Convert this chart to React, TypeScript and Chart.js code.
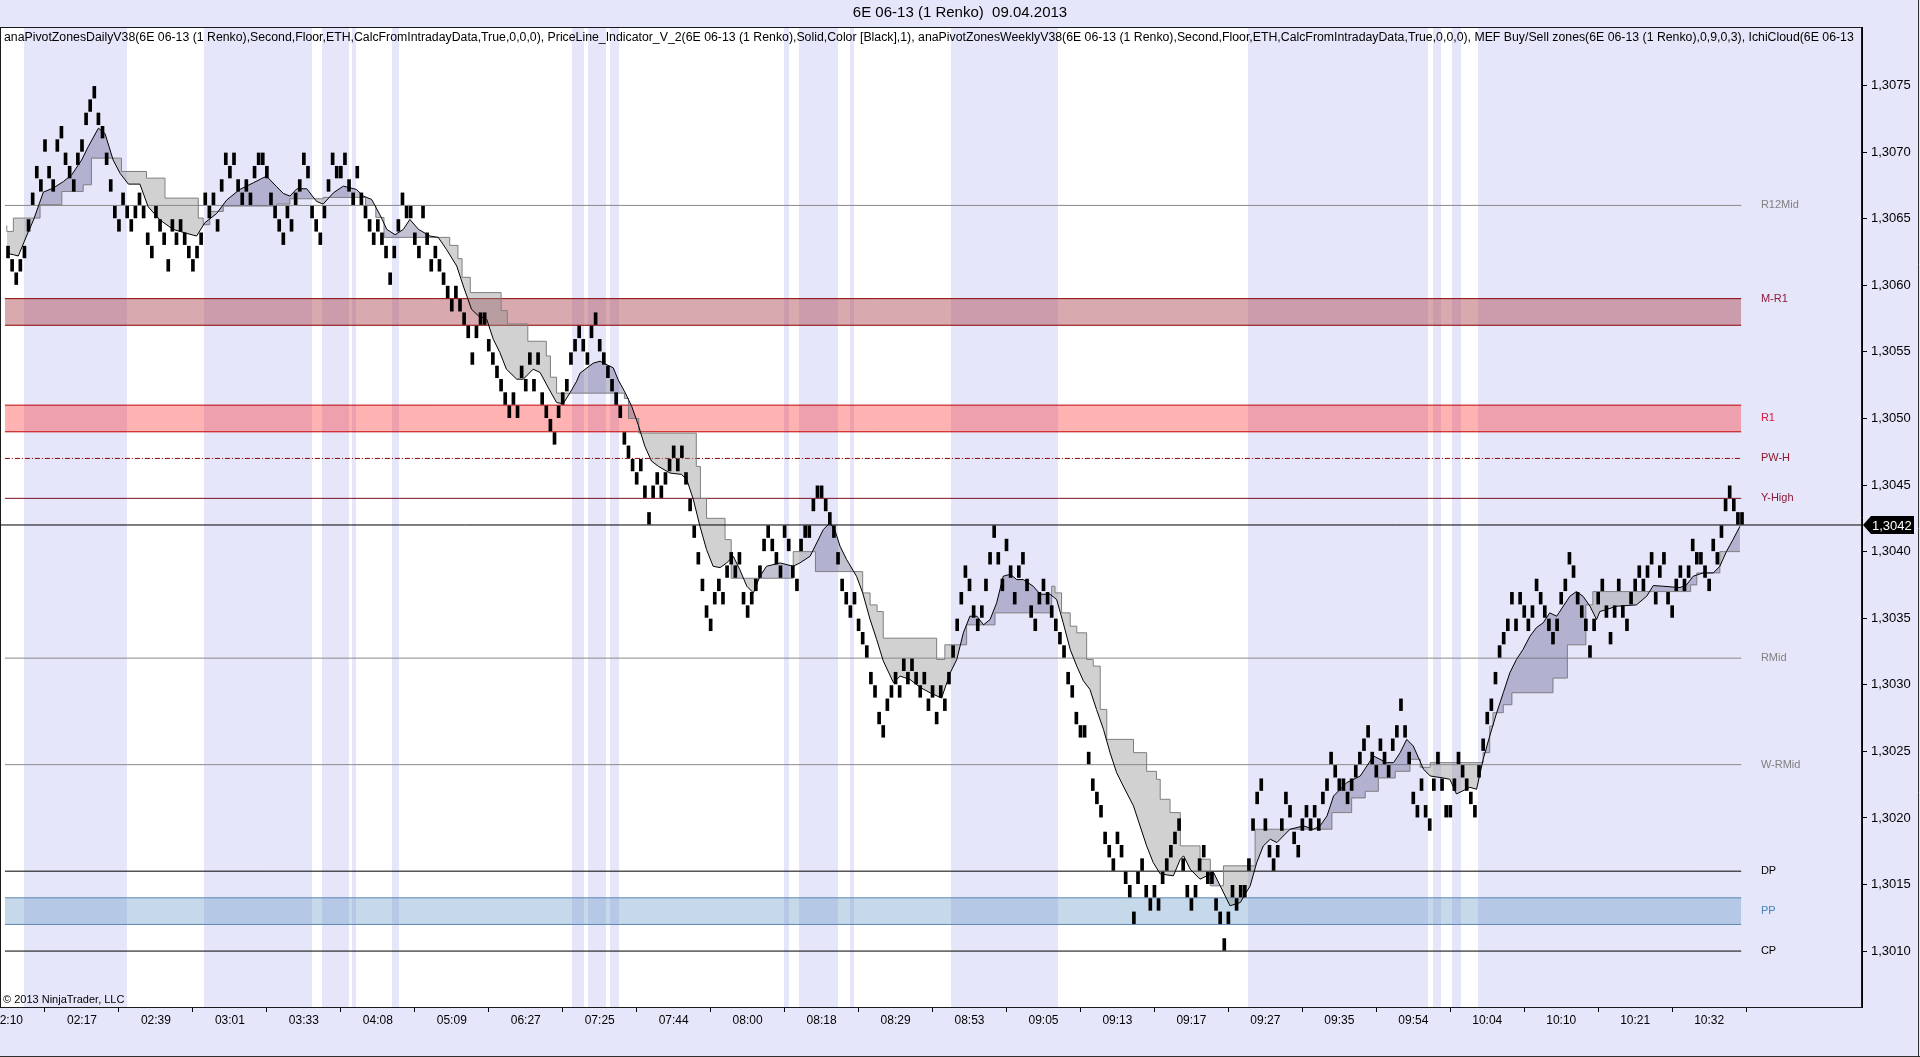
import React, { useEffect, useRef } from 'react';
import { Chart, registerables } from 'chart.js';

Chart.register(...registerables);

// ---------- data ----------
const BASE_PRICE = 1.3;
const TICK = 0.0001;

// Renko brick tops (pips above 1.3000), one brick per bar
const BRICK_TOPS = [
  63, 62, 61, 62, 63, 65, 67, 69, 68, 71, 69, 68, 71, 72, 70, 69, 68, 70, 71, 73,
  74, 75, 73, 72, 70, 68, 66, 65, 67, 66, 65, 66, 67, 66, 64, 63, 66, 65, 64, 62,
  65, 64, 65, 64, 63, 62, 63, 64, 67, 66, 67, 65, 68, 70, 69, 70, 68, 67, 68, 67,
  69, 70, 70, 69, 67, 66, 65, 64, 66, 65, 67, 68, 70, 69,
  66, 65, 64, 66, 68, 70, 69, 69, 70, 68, 67, 69, 67, 66, 65, 64, 65, 64, 63, 61,
  63, 65, 67, 66, 66, 64, 63, 66, 64, 62, 63, 62, 61, 60, 59, 60, 59, 58, 57, 55,
  57, 58, 58, 56, 55, 54, 53, 52, 51, 52, 51, 54, 53, 55, 53, 55, 52, 51, 50, 49,
  51, 52, 53, 55, 56, 57, 56, 55, 57, 58, 56,
  55, 54, 53, 52, 51, 49, 48, 47, 46, 47, 45, 43, 45, 46, 45, 46, 47, 48, 47, 48,
  46, 44, 42, 40, 38, 36, 35, 37, 38, 37, 39, 40, 39, 40, 37, 36, 37, 38, 39, 41,
  42, 41, 40, 39, 42, 41, 39, 38, 41, 42, 42, 44, 45, 45, 44, 43, 42, 40, 38, 37,
  36, 37, 35, 34,
  33, 31, 30, 28, 27, 29, 30, 31, 30, 32, 31, 32, 31, 30, 31, 29, 30, 28, 30, 29,
  31, 33, 35, 37, 39, 38, 36, 35, 36, 38, 40, 42, 40, 38, 41, 39, 37, 39, 40, 38,
  36, 35, 37, 38, 37, 36, 35, 34, 33, 31, 30, 28, 27, 27, 25, 23, 22, 21, 19, 18,
  17, 19, 18, 16, 15, 13, 16, 17, 15, 14, 15, 14, 16, 17, 18, 19, 20,
  17, 15, 14, 15, 17, 18, 16, 16, 14, 13, 11, 13, 15, 14, 15, 15, 17, 20, 22, 23,
  20, 18, 17, 18, 20, 22, 21, 19, 18, 20, 21, 20, 21, 20, 22, 23, 25, 24, 23, 23,
  22, 23, 24, 25, 26, 27, 25, 24, 26, 25, 24, 26, 27, 29, 27, 25, 22, 21, 23, 21,
  20, 23, 25, 23, 21, 21,
  23, 25, 24, 23, 22, 21, 24, 26, 28, 29, 31, 33, 34, 35, 37, 35, 37, 36, 35, 36,
  38, 37, 36, 35, 34, 35, 37, 38, 40, 39, 37, 36, 35, 33, 35, 37, 38, 36, 34, 36,
  38, 36, 35, 37, 38, 39, 38, 39, 40, 37, 39, 40, 37, 36, 38, 39, 38, 39, 41, 40,
  40, 39, 38, 41, 40, 42, 44, 45, 44, 43, 43,
];

// Ichimoku-style cloud: fast line (black) and slow stepped line (grey), [bar, pips]
const CLOUD_FAST = [
  [-0.3, 62.4], [1.3, 62.3], [2.5, 62.2], [4.5, 63.7], [6.2, 64.9], [8.6, 67.0], [11.0, 67.3], [13.5, 67.8],
  [15.5, 68.3], [17.9, 69.4], [19.5, 70.4], [22.0, 71.8], [23.6, 71.4], [25.6, 69.4], [27.3, 68.4], [29.3, 67.6],
  [32.1, 67.6], [34.1, 65.9], [37.0, 64.9], [40.2, 64.2], [43.5, 63.9], [45.9, 63.7], [47.9, 64.7], [50.8, 65.4],
  [53.2, 66.4], [56.4, 67.2], [59.7, 67.7], [62.9, 68.2], [65.4, 67.4], [67.0, 66.9],
  [68.6, 66.7], [70.3, 67.25], [72.7, 67.25], [75.1, 66.3], [76.7, 66.1], [79.2, 66.95], [81.6, 67.45], [84.8, 67.2],
  [86.5, 66.7], [88.5, 66.45], [90.5, 65.3], [92.2, 64.2], [94.2, 63.8], [96.2, 64.2], [97.8, 64.95], [99.9, 64.2],
  [102.7, 63.7], [104.7, 63.6], [106.7, 62.7], [109.2, 61.45], [110.8, 59.95], [112.8, 58.2], [114.5, 57.7],
  [116.5, 57.45], [118.1, 55.95], [119.7, 54.95], [121.3, 53.7], [123.8, 52.95], [125.4, 52.95], [127.8, 53.7],
  [129.5, 53.45], [131.5, 52.3], [133.5, 51.2], [135.1, 51.1], [136.8, 51.95], [138.4, 52.8],
  [139.2, 53.4], [142.4, 54.15], [144.1, 54.3], [147.3, 53.8], [148.5, 52.9], [150.1, 52.0], [151.8, 50.9],
  [153.4, 49.5], [155.0, 47.9], [156.6, 46.8], [158.3, 46.4], [161.1, 45.9], [163.9, 45.8], [165.2, 45.4],
  [166.8, 43.9], [168.4, 41.9], [170.0, 40.15], [171.6, 38.9], [173.3, 38.8], [174.9, 39.15], [176.5, 39.65],
  [178.1, 38.65], [179.8, 37.4], [181.4, 36.9], [183.0, 38.15], [184.6, 38.9], [187.9, 39.15], [191.1, 38.9],
  [192.7, 39.15], [195.2, 39.65], [196.8, 40.65], [198.4, 41.65], [200.0, 42.15], [201.2, 41.65], [202.5, 40.4],
  [204.1, 39.4], [206.5, 38.15], [208.0, 36.9],
  [209.8, 34.9], [211.4, 33.4], [213.0, 31.8], [215.5, 30.15], [217.1, 30.65], [219.5, 30.4], [222.0, 29.8],
  [224.4, 29.4], [227.2, 29.0], [229.3, 30.9], [230.9, 31.9], [232.5, 33.9], [234.1, 35.15], [235.8, 35.15],
  [237.4, 34.5], [239.0, 34.9], [240.6, 36.15], [242.2, 38.15], [243.9, 38.3], [245.5, 37.9], [247.1, 37.9],
  [249.5, 37.4], [251.2, 36.8], [253.6, 36.8], [255.2, 36.4], [256.8, 34.65], [258.5, 32.65], [260.1, 31.4],
  [261.7, 30.3], [263.3, 29.65], [264.9, 28.15], [266.6, 26.65], [268.2, 24.9], [269.8, 23.4], [271.4, 22.4],
  [273.9, 20.9], [275.5, 19.4], [277.1, 17.9], [278.7, 16.65],
  [280.4, 15.8], [283.6, 15.65], [285.3, 16.9], [286.1, 17.15], [287.7, 16.15], [290.1, 15.4], [293.4, 15.9],
  [295.0, 14.9], [297.4, 13.4], [299.9, 13.65], [302.3, 14.9], [303.9, 16.65], [305.5, 17.9], [307.2, 18.4],
  [308.8, 18.15], [312.0, 19.15], [315.3, 19.4], [317.7, 19.15], [319.3, 19.4], [321.0, 20.15], [322.6, 21.65],
  [325.8, 22.65], [329.1, 23.15], [330.7, 23.9], [332.3, 24.65], [335.5, 24.15], [337.2, 24.15], [338.8, 24.9],
  [340.4, 25.9], [342.0, 25.4], [344.5, 23.65], [346.1, 23.15], [349.3, 23.0],
  [350.9, 22.9], [352.5, 21.8], [355.8, 22.3], [357.4, 22.15], [359.0, 24.4], [360.6, 26.15], [362.3, 27.9],
  [363.9, 29.4], [365.5, 30.9], [367.1, 31.9], [368.7, 32.65], [370.4, 33.65], [372.0, 34.3], [373.6, 34.65],
  [375.2, 35.4], [376.9, 35.15], [378.5, 35.9], [380.1, 36.65], [381.7, 37.0], [383.3, 36.65], [385.0, 35.9],
  [386.6, 34.9], [387.4, 35.5], [389.0, 35.65], [391.5, 35.9], [396.3, 36.0], [398.8, 36.65], [400.4, 37.45],
  [402.8, 37.4], [406.9, 37.3], [408.5, 37.5], [410.1, 38.15], [412.5, 38.4], [415.0, 38.4], [416.6, 38.9],
  [418.2, 40.0], [419.8, 40.9], [421.5, 41.9],
];

const CLOUD_SLOW = [
  [-0.3, 64.5], [1.3, 64.05], [7.8, 65.05], [13.1, 66.05], [18.3, 67.05], [20.3, 67.55], [27.6, 69.55],
  [33.7, 68.55], [38.2, 68.05], [46.3, 66.55], [47.5, 65.05], [49.1, 64.55], [52.4, 65.55], [65.4, 65.95],
  [68.6, 66.1], [76.7, 66.5], [87.0, 66.6], [89.5, 66.0], [91.5, 65.1], [107.5, 63.6], [109.5, 63.0],
  [110.5, 62.0], [112.5, 60.6], [120.0, 59.45], [121.5, 58.1], [126.5, 57.1], [131.0, 55.8], [132.0, 54.7],
  [133.5, 53.1], [150.0, 51.9], [151.0, 51.5], [153.5, 50.0], [167.5, 48.9], [168.5, 46.4], [170.0, 44.0],
  [174.5, 42.5], [176.0, 40.9], [191.1, 38.0], [196.5, 40.0], [208.0, 38.5], [209.8, 36.9], [211.5, 36.0],
  [213.0, 35.5], [226.0, 33.5], [228.0, 31.9], [233.3, 33.0], [240.2, 34.5], [254.0, 35.4], [254.8, 37.4],
  [256.4, 36.9], [258.5, 35.4], [260.1, 34.4], [262.5, 33.9], [264.1, 31.9], [265.8, 31.4], [267.4, 28.15],
  [273.9, 25.9], [277.1, 24.9], [279.5, 23.5], [280.4, 22.9], [282.8, 21.4], [285.3, 20.4], [290.1, 17.9],
  [292.6, 16.9], [295.8, 14.9], [303.5, 16.4], [322.2, 19.15], [327.0, 20.4], [330.3, 21.5], [333.5, 22.0],
  [337.6, 23.0], [341.2, 23.5], [343.7, 24.4], [346.1, 23.8], [359.0, 24.15], [360.6, 24.9], [361.4, 26.9],
  [363.9, 27.9], [366.0, 28.5], [376.0, 29.4], [379.5, 30.5], [384.0, 33.0], [385.7, 36.0], [409.5, 37.0],
  [411.0, 37.5], [416.6, 38.4], [417.5, 40.0], [421.5, 40.0],
];

const TIME_LABELS = [
  '02:10', '02:17', '02:39', '03:01', '03:33', '04:08', '05:09', '06:27', '07:25', '07:44', '08:00', '08:18',
  '08:29', '08:53', '09:05', '09:13', '09:17', '09:27', '09:35', '09:54', '10:04', '10:10', '10:21', '10:32',
];
const TIME_LABEL_BARS = [
  0, 18, 36, 54, 72, 90, 108, 126, 144, 162, 180, 198, 216, 234, 252, 270, 288, 306, 324, 342, 360, 378, 396, 414,
];

const PRICE_TICKS = [
  1.301, 1.3015, 1.302, 1.3025, 1.303, 1.3035, 1.304, 1.3045, 1.305, 1.3055, 1.306, 1.3065, 1.307, 1.3075,
];

const LINE_NAMES = ['R12Mid', 'PW-H', 'Y-High', 'RMid', 'W-RMid', 'DP', 'CP'];
const LINE_PRICES = [1.3066, 1.3047, 1.3044, 1.3032, 1.3024, 1.3016, 1.301];

const ZONE_NAMES = ['M-R1', 'R1', 'PP'];
const ZONE_LOW = [1.3057, 1.3049, 1.3012];
const ZONE_HIGH = [1.3059, 1.3051, 1.3014];
const ZONE_LABEL_PRICES = [1.3059, 1.305, 1.3013];

const LAST_PRICE = 1.3042;

// highlighted (lavender) bar ranges in the price panel
const HIGHLIGHT_BANDS = [
  [4, 29], [47.8, 74], [76.4, 83], [83.8, 84.8], [93.4, 95.2], [137.2, 140.2], [141.1, 145.6], [146.5, 148.6],
  [188.8, 190], [192.4, 201.9], [204.9, 205.8], [229.6, 255.5], [301.7, 345.5], [346.7, 348.8], [351.5, 353.6],
  [357.7, 460],
];

const TITLE = '6E 06-13 (1 Renko)  09.04.2013';
const INDICATORS =
  'anaPivotZonesDailyV38(6E 06-13 (1 Renko),Second,Floor,ETH,CalcFromIntradayData,True,0,0,0), PriceLine_Indicator_V_2(6E 06-13 (1 Renko),Solid,Color [Black],1), anaPivotZonesWeeklyV38(6E 06-13 (1 Renko),Second,Floor,ETH,CalcFromIntradayData,True,0,0,0), MEF Buy/Sell zones(6E 06-13 (1 Renko),0,9,0,3), IchiCloud(6E 06-13 (1 Renko),9,26,52)';
const INDICATORS_VISIBLE_END = 'IchiCloud(6E 06-13';
const COPYRIGHT = '\u00A9 2013 NinjaTrader, LLC';

// ---------- layout / style ----------
const X_MIN = -1.95;
const X_MAX = 451.2;
const Y_MIN = 1.30058;
const Y_MAX = 1.30794;
const LINE_START = -0.75;
const LINE_END = 421.8;
const LABEL_AT = 426.6;

const FONT = '"Liberation Sans", Arial, sans-serif';
const LAVENDER = '#E6E6FA';
const CLOUD_UP = 'rgba(95,95,140,0.38)';
const CLOUD_DOWN = 'rgba(140,140,140,0.4)';
const LINE_COLORS = ['#8a8a8a', '#8b0000', '#7a1020', '#8a8a8a', '#8a8a8a', '#000000', '#000000'];
const LINE_DASHES = [[], [5, 2, 1, 2], [], [], [], [], []];
const LINE_LABEL_COLORS = ['#808080', '#8b1a2a', '#8b1a3a', '#808080', '#808080', '#000000', '#000000'];
const ZONE_FILLS = ['rgba(168,66,77,0.45)', 'rgba(255,0,0,0.3)', 'rgba(89,146,195,0.35)'];
const ZONE_BORDERS = ['#8b0000', '#c00000', '#5f86b0'];
const ZONE_LABEL_COLORS = ['#8b1a3a', '#dc143c', '#4682b4'];

const pip = (p: number) => BASE_PRICE + p * TICK;
const fmtPrice = (v: number) => v.toFixed(4).replace('.', ',');

const decor = {
  id: 'decor',
  beforeDraw(chart: any) {
    const { ctx, chartArea: a, scales } = chart;
    const x = scales.x;
    ctx.save();
    ctx.fillStyle = LAVENDER;
    ctx.fillRect(0, 0, chart.width, chart.height);
    ctx.fillStyle = '#ffffff';
    ctx.fillRect(a.left, a.top, a.right - a.left, a.bottom - a.top);
    ctx.fillStyle = LAVENDER;
    for (const [s, e] of HIGHLIGHT_BANDS) {
      const x0 = Math.round(Math.max(a.left, x.getPixelForValue(s)));
      const x1 = Math.round(Math.min(a.right, x.getPixelForValue(e)));
      if (x1 > x0) ctx.fillRect(x0, a.top, x1 - x0, a.bottom - a.top);
    }
    ctx.restore();
  },
  afterDatasetsDraw(chart: any) {
    const { ctx, scales } = chart;
    const x = scales.x;
    const y = scales.y;
    const lx = x.getPixelForValue(LABEL_AT);
    ctx.save();
    ctx.font = `11px ${FONT}`;
    ctx.textBaseline = 'middle';
    ctx.textAlign = 'left';
    LINE_NAMES.forEach((n, k) => {
      ctx.fillStyle = LINE_LABEL_COLORS[k];
      ctx.fillText(n, lx, y.getPixelForValue(LINE_PRICES[k]));
    });
    ZONE_NAMES.forEach((n, k) => {
      ctx.fillStyle = ZONE_LABEL_COLORS[k];
      ctx.fillText(n, lx, y.getPixelForValue(ZONE_LABEL_PRICES[k]));
    });
    ctx.restore();
  },
  afterDraw(chart: any) {
    const { ctx, chartArea: a, scales } = chart;
    const y = scales.y;
    ctx.save();
    ctx.strokeStyle = '#1a1a1a';
    ctx.lineWidth = 1;
    ctx.strokeRect(a.left + 0.5, a.top + 0.5, a.right - a.left - 1, a.bottom - a.top);
    ctx.strokeStyle = '#303030';
    ctx.beginPath();
    ctx.moveTo(0, chart.height - 0.5);
    ctx.lineTo(chart.width, chart.height - 0.5);
    ctx.moveTo(chart.width - 1.5, 0);
    ctx.lineTo(chart.width - 1.5, chart.height);
    ctx.stroke();

    ctx.fillStyle = '#000';
    ctx.font = `15px ${FONT}`;
    ctx.textAlign = 'center';
    ctx.textBaseline = 'middle';
    ctx.fillText(TITLE, chart.width / 2, 13);

    ctx.save();
    ctx.beginPath();
    ctx.rect(a.left, a.top, a.right - a.left - 4, 30);
    ctx.clip();
    ctx.font = `12px ${FONT}`;
    const idx = INDICATORS.indexOf(INDICATORS_VISIBLE_END) + INDICATORS_VISIBLE_END.length;
    const w = ctx.measureText(INDICATORS.slice(0, idx)).width;
    const size = (12 * (a.right - a.left - 12)) / w;
    ctx.font = `${size.toFixed(2)}px ${FONT}`;
    ctx.textAlign = 'left';
    ctx.fillStyle = '#000';
    ctx.fillText(INDICATORS, a.left + 4, a.top + 11);
    ctx.restore();

    ctx.font = `11px ${FONT}`;
    ctx.textAlign = 'left';
    ctx.textBaseline = 'middle';
    ctx.fillStyle = '#000';
    ctx.fillText(COPYRIGHT, a.left + 3, a.bottom - 7);

    const py = Math.round(y.getPixelForValue(LAST_PRICE));
    const ax = a.right;
    ctx.fillStyle = '#000';
    ctx.beginPath();
    ctx.moveTo(ax + 1, py);
    ctx.lineTo(ax + 9, py - 9);
    ctx.lineTo(ax + 52, py - 9);
    ctx.lineTo(ax + 52, py + 9);
    ctx.lineTo(ax + 9, py + 9);
    ctx.closePath();
    ctx.fill();
    ctx.fillStyle = '#fff';
    ctx.font = `13px ${FONT}`;
    ctx.textAlign = 'left';
    ctx.fillText(fmtPrice(LAST_PRICE), ax + 10, py + 1);
    ctx.restore();
  },
};

function buildDatasets() {
  const ds: any[] = [];
  ds.push({
    type: 'bar',
    label: 'Renko',
    data: BRICK_TOPS.map((t, i) => ({ x: i, y: [pip(t - 0.94), pip(t - 0.06)] })),
    backgroundColor: '#000',
    borderWidth: 0,
    barThickness: 3,
    order: 0,
  });
  ds.push({
    type: 'line',
    label: 'Slow',
    data: CLOUD_SLOW.map(([i, p]) => ({ x: i, y: pip(p) })),
    borderColor: '#808080',
    borderWidth: 1,
    pointRadius: 0,
    stepped: 'after',
    fill: false,
    order: 3,
  });
  ds.push({
    type: 'line',
    label: 'Fast',
    data: CLOUD_FAST.map(([i, p]) => ({ x: i, y: pip(p) })),
    borderColor: '#000',
    borderWidth: 1,
    pointRadius: 0,
    tension: 0,
    fill: { target: 1, above: CLOUD_UP, below: CLOUD_DOWN },
    order: 2,
  });
  ds.push({
    type: 'line',
    label: 'Last',
    data: [{ x: X_MIN, y: LAST_PRICE }, { x: X_MAX, y: LAST_PRICE }],
    borderColor: '#000',
    borderWidth: 1,
    pointRadius: 0,
    fill: false,
    order: 1,
  });
  LINE_PRICES.forEach((p, k) => {
    ds.push({
      type: 'line',
      label: LINE_NAMES[k],
      data: [{ x: LINE_START, y: p }, { x: LINE_END, y: p }],
      borderColor: LINE_COLORS[k],
      borderDash: LINE_DASHES[k],
      borderWidth: 1,
      pointRadius: 0,
      fill: false,
      order: 5,
    });
  });
  ZONE_LOW.forEach((lo, k) => {
    const topIdx = ds.length;
    ds.push({
      type: 'line',
      label: ZONE_NAMES[k] + ' high',
      data: [{ x: LINE_START, y: ZONE_HIGH[k] }, { x: LINE_END, y: ZONE_HIGH[k] }],
      borderColor: ZONE_BORDERS[k],
      borderWidth: 1,
      pointRadius: 0,
      fill: false,
      order: 6,
    });
    ds.push({
      type: 'line',
      label: ZONE_NAMES[k] + ' low',
      data: [{ x: LINE_START, y: lo }, { x: LINE_END, y: lo }],
      borderColor: ZONE_BORDERS[k],
      borderWidth: 1,
      pointRadius: 0,
      fill: { target: topIdx, above: ZONE_FILLS[k], below: ZONE_FILLS[k] },
      order: 6,
    });
  });
  return ds;
}

export default function App() {
  const ref = useRef<HTMLCanvasElement>(null);
  useEffect(() => {
    document.body.style.margin = '0';
    document.body.style.background = LAVENDER;
    const canvas = ref.current;
    if (!canvas) return;
    const chart = new Chart(canvas, {
      type: 'line',
      data: { datasets: buildDatasets() },
      plugins: [decor],
      options: {
        responsive: false,
        animation: false,
        devicePixelRatio: 1,
        events: [],
        layout: { padding: { top: 27, left: 0, right: 0, bottom: 0 }, autoPadding: false },
        plugins: {
          legend: { display: false },
          tooltip: { enabled: false },
          title: { display: false },
        },
        scales: {
          x: {
            type: 'linear',
            position: 'bottom',
            min: X_MIN,
            max: X_MAX,
            offset: false,
            grid: { display: true, drawOnChartArea: false, drawTicks: true, tickLength: 5, color: '#000' },
            border: { display: true, color: '#000' },
            ticks: {
              autoSkip: false,
              maxRotation: 0,
              minRotation: 0,
              padding: 1,
              color: '#000',
              font: { family: FONT, size: 12 },
              callback: (_v: any, i: number) => TIME_LABELS[i],
            },
            afterBuildTicks: (scale: any) => {
              scale.ticks = TIME_LABEL_BARS.map((v) => ({ value: v }));
            },
            afterFit: (scale: any) => {
              scale.height = 50;
              scale.paddingLeft = 0;
              scale.paddingRight = 0;
            },
          },
          y: {
            type: 'linear',
            position: 'right',
            min: Y_MIN,
            max: Y_MAX,
            grid: { display: true, drawOnChartArea: false, drawTicks: true, tickLength: 5, color: '#000' },
            border: { display: true, color: '#000' },
            ticks: {
              padding: 4,
              color: '#000',
              font: { family: FONT, size: 13 },
              callback: (v: any) => fmtPrice(Number(v)),
            },
            afterBuildTicks: (scale: any) => {
              scale.ticks = PRICE_TICKS.map((v) => ({ value: v }));
            },
            afterFit: (scale: any) => {
              scale.width = 58;
              scale.paddingTop = 0;
              scale.paddingBottom = 0;
            },
          },
        },
      } as any,
    });
    return () => chart.destroy();
  }, []);
  return (
    <div style={{ width: 1920, height: 1057, background: LAVENDER }}>
      <canvas ref={ref} width={1920} height={1057} style={{ display: 'block', width: 1920, height: 1057 }} />
    </div>
  );
}
